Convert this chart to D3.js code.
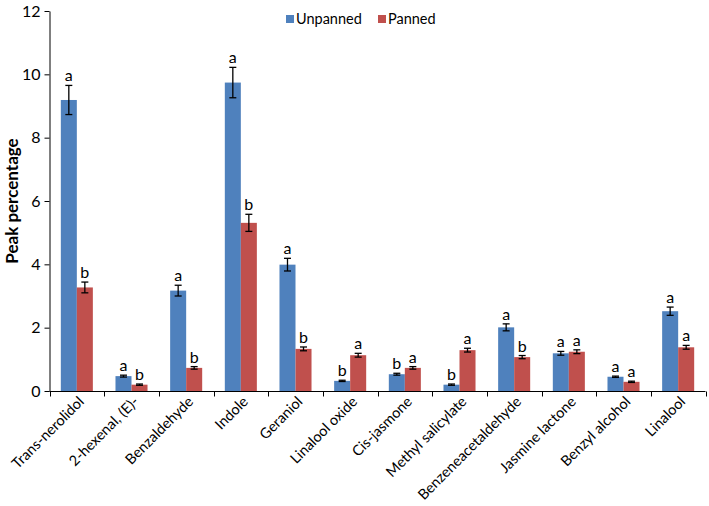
<!DOCTYPE html>
<html><head><meta charset="utf-8">
<script src="https://cdn.jsdelivr.net/npm/d3@7"></script>
<style>body{margin:0;background:#fff}svg{display:block}text{font-family:Lato,"Open Sans",sans-serif}</style>
</head><body><svg id="c" width="709" height="506"></svg>
<script>
const categories = ["Trans-nerolidol","2-hexenal, (E)-","Benzaldehyde","Indole","Geraniol","Linalool oxide","Cis-jasmone","Methyl salicylate","Benzeneacetaldehyde","Jasmine lactone","Benzyl alcohol","Linalool"];
const seriesNames = ["Unpanned","Panned"];
const unpanned = [9.19,0.47,3.17,9.74,3.99,0.32,0.53,0.20,2.01,1.19,0.45,2.52];
const unpannedErr = [0.46,0.03,0.17,0.48,0.20,0.02,0.03,0.02,0.11,0.06,0.02,0.13];
const unpannedLetters = ["a","a","a","a","a","b","b","b","a","a","a","a"];
const panned = [3.27,0.20,0.73,5.31,1.33,1.13,0.73,1.29,1.07,1.24,0.29,1.38];
const pannedErr = [0.17,0.02,0.04,0.27,0.06,0.06,0.04,0.06,0.05,0.06,0.02,0.06];
const pannedLetters = ["b","b","b","b","b","a","a","a","b","a","a","a"];
const yTicks = [0,2,4,6,8,10,12];
const colors = ["#4F81BD","#C0504D"];

const svg = d3.select("#c");
const x0 = d3.scaleBand().domain(categories).range([49.5,705.5]).padding(0);
const x1 = d3.scaleBand().domain(seriesNames).range([x0.bandwidth()*0.207, x0.bandwidth()*0.793]).padding(0);
const y = d3.scaleLinear().domain([0,12]).range([391,11]);

const series = [
  {name:"Unpanned", vals:unpanned, err:unpannedErr, letters:unpannedLetters},
  {name:"Panned", vals:panned, err:pannedErr, letters:pannedLetters}
];
const rows = [];
series.forEach((s,si)=>categories.forEach((c,i)=>rows.push({c, s:s.name, si, v:s.vals[i], e:s.err[i], l:s.letters[i]})));

svg.append("g").selectAll("rect").data(rows).join("rect")
  .attr("x", d=>x0(d.c)+x1(d.s))
  .attr("width", x1.bandwidth())
  .attr("y", d=>y(d.v))
  .attr("height", d=>y(0)-y(d.v))
  .attr("fill", d=>colors[d.si]);

const eg = svg.append("g").attr("stroke","#000").attr("stroke-width",1.3);
rows.forEach(d=>{
  const cx = x0(d.c)+x1(d.s)+x1.bandwidth()/2;
  eg.append("line").attr("x1",cx).attr("x2",cx).attr("y1",y(d.v+d.e)).attr("y2",y(d.v-d.e));
  eg.append("line").attr("x1",cx-3.5).attr("x2",cx+3.5).attr("y1",y(d.v+d.e)).attr("y2",y(d.v+d.e));
  eg.append("line").attr("x1",cx-3.5).attr("x2",cx+3.5).attr("y1",y(d.v-d.e)).attr("y2",y(d.v-d.e));
});

svg.append("g").selectAll("text").data(rows).join("text")
  .attr("x", d=>x0(d.c)+x1(d.s)+x1.bandwidth()/2)
  .attr("y", d=>y(d.v+d.e)-4)
  .attr("text-anchor","middle")
  .attr("font-size",16)
  .attr("fill","#000")
  .text(d=>d.l);

const yAxis = d3.axisLeft(y).tickValues(yTicks).tickSize(5).tickSizeOuter(0).tickPadding(4);
const yg = svg.append("g").attr("transform","translate(49.5,0)").call(yAxis);
yg.select(".domain").attr("stroke","#000").attr("stroke-width",1);
yg.selectAll(".tick line").attr("stroke","#000");
yg.selectAll(".tick text").attr("font-size",16).attr("font-family","Lato").attr("fill","#000");

const xg = svg.append("g").attr("transform","translate(0,391.5)");
xg.append("line").attr("x1",49.5).attr("x2",705.5).attr("stroke","#000");
const bounds = categories.map(c=>x0(c)).concat([x0.range()[1]]);
xg.selectAll("line.t").data(bounds).join("line").attr("class","t")
  .attr("x1",d=>Math.round(d)+0.5).attr("x2",d=>Math.round(d)+0.5).attr("y1",0).attr("y2",5).attr("stroke","#000");
xg.selectAll("text").data(categories).join("text")
  .attr("transform", d=>`translate(${x0(d)+x0.bandwidth()/2+8},${11}) rotate(-45)`)
  .attr("text-anchor","end")
  .attr("font-size",14.5)
  .attr("fill","#000")
  .text(d=>d);

svg.append("text").attr("transform","translate(18,201) rotate(-90)")
  .attr("text-anchor","middle").attr("font-size",17).attr("font-weight","bold").attr("fill","#000")
  .text("Peak percentage");

const lg = svg.append("g");
const lx = [286,378];
seriesNames.forEach((n,i)=>{
  lg.append("rect").attr("x",lx[i]).attr("y",15).attr("width",8).attr("height",8).attr("fill",colors[i]);
  lg.append("text").attr("x",lx[i]+10).attr("y",24).attr("font-size",14.5).attr("fill","#000").text(n);
});
</script></body></html>
